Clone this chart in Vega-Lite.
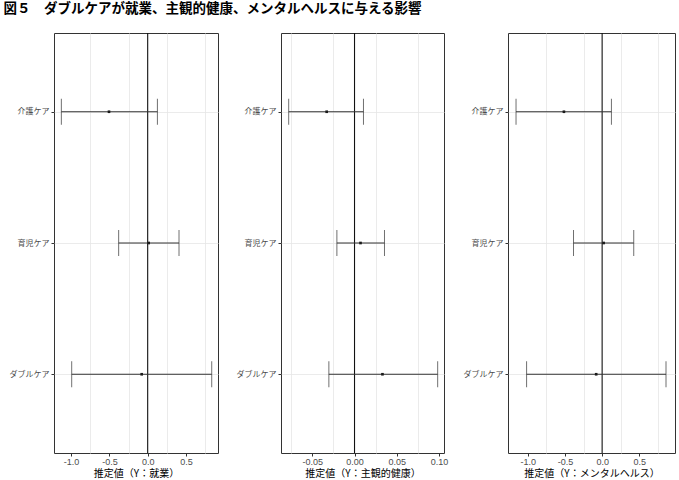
{
  "$schema": "https://vega.github.io/schema/vega-lite/v6.json",
  "padding": {"left": 3, "top": 2, "right": 0, "bottom": 0},
  "background": "white",
  "title": {
    "text": "図５　ダブルケアが就業、主観的健康、メンタルヘルスに与える影響",
    "anchor": "start",
    "frame": "bounds",
    "font": "Noto Sans CJK JP",
    "fontSize": 13.5,
    "fontWeight": "bold",
    "color": "#000000",
    "offset": 16
  },
  "spacing": 11,
  "datasets": {
    "est": [
      {"outcome": "就業", "item": "介護ケア", "est": -0.505, "lo": -1.127, "hi": 0.127},
      {"outcome": "就業", "item": "育児ケア", "est": 0.013, "lo": -0.379, "hi": 0.409},
      {"outcome": "就業", "item": "ダブルケア", "est": -0.078, "lo": -0.992, "hi": 0.836},
      {"outcome": "主観的健康", "item": "介護ケア", "est": -0.033, "lo": -0.078, "hi": 0.0106},
      {"outcome": "主観的健康", "item": "育児ケア", "est": 0.0071, "lo": -0.0209, "hi": 0.0355},
      {"outcome": "主観的健康", "item": "ダブルケア", "est": 0.0331, "lo": -0.0304, "hi": 0.0985},
      {"outcome": "メンタルヘルス", "item": "介護ケア", "est": -0.514, "lo": -1.158, "hi": 0.125},
      {"outcome": "メンタルヘルス", "item": "育児ケア", "est": 0.02, "lo": -0.385, "hi": 0.425},
      {"outcome": "メンタルヘルス", "item": "ダブルケア", "est": -0.08, "lo": -1.016, "hi": 0.859}
    ]
  },
  "config": {
    "view": {"stroke": "#333333", "strokeWidth": 1},
    "axis": {
      "domain": false,
      "grid": true,
      "gridColor": "#e6e6e6",
      "gridWidth": 0.8,
      "tickColor": "#333333",
      "tickSize": 3,
      "labelColor": "#4d4d4d",
      "titleColor": "#000000",
      "titleFont": "Noto Sans CJK JP",
      "titleFontWeight": "normal"
    },
    "axisY": {
      "labelFont": "Noto Sans CJK JP",
      "labelFontSize": 8,
      "labelPadding": 2,
      "minExtent": 50,
      "maxExtent": 50
    },
    "axisX": {
      "labelFont": "Liberation Sans",
      "labelFontSize": 9,
      "labelPadding": 1,
      "titleFontSize": 10,
      "titlePadding": 2
    }
  },
  "hconcat": [
    {
      "width": 164,
      "height": 420,
      "data": {"name": "est"},
      "transform": [{"filter": "datum.outcome === '就業'"}],
      "resolve": {"axis": {"x": "independent"}},
      "layer": [
        {
          "data": {"values": [{}]},
          "mark": {"type": "rule", "color": "#111111", "strokeWidth": 1.1},
          "encoding": {"x": {"datum": 0, "type": "quantitative", "scale": {"domain": [-1.223, 0.918], "nice": false, "zero": false},
            "axis": {"orient": "top", "values": [-0.75, -0.25, 0.25, 0.75], "labels": false, "ticks": false, "title": null, "minExtent": 0, "maxExtent": 0}}}
        },
        {
          "mark": {"type": "rule", "color": "#333333", "strokeWidth": 1},
          "encoding": {
            "x": {"field": "lo", "type": "quantitative", "scale": {"domain": [-1.223, 0.918], "nice": false, "zero": false},
              "axis": {"title": "推定値（Y：就業）", "values": [-1, -0.5, 0, 0.5], "format": ".1f",
                "labelExpr": "replace(datum.label, '−', '-')"}},
            "x2": {"field": "hi"},
            "y": {"field": "item", "type": "nominal", "sort": ["介護ケア", "育児ケア", "ダブルケア"], "scale": {"type": "point", "padding": 0.6}, "axis": {"title": null}}
          }
        },
        {
          "mark": {"type": "tick", "color": "#333333", "thickness": 1, "size": 26},
          "encoding": {
            "x": {"field": "lo", "type": "quantitative", "axis": null},
            "y": {"field": "item", "type": "nominal", "sort": ["介護ケア", "育児ケア", "ダブルケア"]}
          }
        },
        {
          "mark": {"type": "tick", "color": "#333333", "thickness": 1, "size": 26},
          "encoding": {
            "x": {"field": "hi", "type": "quantitative", "axis": null},
            "y": {"field": "item", "type": "nominal", "sort": ["介護ケア", "育児ケア", "ダブルケア"]}
          }
        },
        {
          "mark": {"type": "square", "filled": true, "color": "#1a1a1a", "size": 7, "opacity": 1},
          "encoding": {
            "x": {"field": "est", "type": "quantitative", "axis": null},
            "y": {"field": "item", "type": "nominal", "sort": ["介護ケア", "育児ケア", "ダブルケア"]}
          }
        }
      ]
    },
    {
      "width": 163,
      "height": 420,
      "data": {"name": "est"},
      "transform": [{"filter": "datum.outcome === '主観的健康'"}],
      "resolve": {"axis": {"x": "independent"}},
      "layer": [
        {
          "data": {"values": [{}]},
          "mark": {"type": "rule", "color": "#111111", "strokeWidth": 1.1},
          "encoding": {"x": {"datum": 0, "type": "quantitative", "scale": {"domain": [-0.0871, 0.106], "nice": false, "zero": false},
            "axis": {"orient": "top", "values": [-0.075, -0.025, 0.025, 0.075], "labels": false, "ticks": false, "title": null, "minExtent": 0, "maxExtent": 0}}}
        },
        {
          "mark": {"type": "rule", "color": "#333333", "strokeWidth": 1},
          "encoding": {
            "x": {"field": "lo", "type": "quantitative", "scale": {"domain": [-0.0871, 0.106], "nice": false, "zero": false},
              "axis": {"title": "推定値（Y：主観的健康）", "values": [-0.05, 0, 0.05, 0.1], "format": ".2f",
                "labelExpr": "replace(datum.label, '−', '-')"}},
            "x2": {"field": "hi"},
            "y": {"field": "item", "type": "nominal", "sort": ["介護ケア", "育児ケア", "ダブルケア"], "scale": {"type": "point", "padding": 0.6}, "axis": {"title": null}}
          }
        },
        {
          "mark": {"type": "tick", "color": "#333333", "thickness": 1, "size": 26},
          "encoding": {
            "x": {"field": "lo", "type": "quantitative", "axis": null},
            "y": {"field": "item", "type": "nominal", "sort": ["介護ケア", "育児ケア", "ダブルケア"]}
          }
        },
        {
          "mark": {"type": "tick", "color": "#333333", "thickness": 1, "size": 26},
          "encoding": {
            "x": {"field": "hi", "type": "quantitative", "axis": null},
            "y": {"field": "item", "type": "nominal", "sort": ["介護ケア", "育児ケア", "ダブルケア"]}
          }
        },
        {
          "mark": {"type": "square", "filled": true, "color": "#1a1a1a", "size": 7, "opacity": 1},
          "encoding": {
            "x": {"field": "est", "type": "quantitative", "axis": null},
            "y": {"field": "item", "type": "nominal", "sort": ["介護ケア", "育児ケア", "ダブルケア"]}
          }
        }
      ]
    },
    {
      "width": 167,
      "height": 420,
      "data": {"name": "est"},
      "transform": [{"filter": "datum.outcome === 'メンタルヘルス'"}],
      "resolve": {"axis": {"x": "independent"}},
      "layer": [
        {
          "data": {"values": [{}]},
          "mark": {"type": "rule", "color": "#111111", "strokeWidth": 1.1},
          "encoding": {"x": {"datum": 0, "type": "quantitative", "scale": {"domain": [-1.266, 0.98], "nice": false, "zero": false},
            "axis": {"orient": "top", "values": [-0.75, -0.25, 0.25, 0.75], "labels": false, "ticks": false, "title": null, "minExtent": 0, "maxExtent": 0}}}
        },
        {
          "mark": {"type": "rule", "color": "#333333", "strokeWidth": 1},
          "encoding": {
            "x": {"field": "lo", "type": "quantitative", "scale": {"domain": [-1.266, 0.98], "nice": false, "zero": false},
              "axis": {"title": "推定値（Y：メンタルヘルス）", "values": [-1, -0.5, 0, 0.5], "format": ".1f",
                "labelExpr": "replace(datum.label, '−', '-')"}},
            "x2": {"field": "hi"},
            "y": {"field": "item", "type": "nominal", "sort": ["介護ケア", "育児ケア", "ダブルケア"], "scale": {"type": "point", "padding": 0.6}, "axis": {"title": null, "minExtent": 47, "maxExtent": 47}}
          }
        },
        {
          "mark": {"type": "tick", "color": "#333333", "thickness": 1, "size": 26},
          "encoding": {
            "x": {"field": "lo", "type": "quantitative", "axis": null},
            "y": {"field": "item", "type": "nominal", "sort": ["介護ケア", "育児ケア", "ダブルケア"]}
          }
        },
        {
          "mark": {"type": "tick", "color": "#333333", "thickness": 1, "size": 26},
          "encoding": {
            "x": {"field": "hi", "type": "quantitative", "axis": null},
            "y": {"field": "item", "type": "nominal", "sort": ["介護ケア", "育児ケア", "ダブルケア"]}
          }
        },
        {
          "mark": {"type": "square", "filled": true, "color": "#1a1a1a", "size": 7, "opacity": 1},
          "encoding": {
            "x": {"field": "est", "type": "quantitative", "axis": null},
            "y": {"field": "item", "type": "nominal", "sort": ["介護ケア", "育児ケア", "ダブルケア"]}
          }
        }
      ]
    }
  ]
}
